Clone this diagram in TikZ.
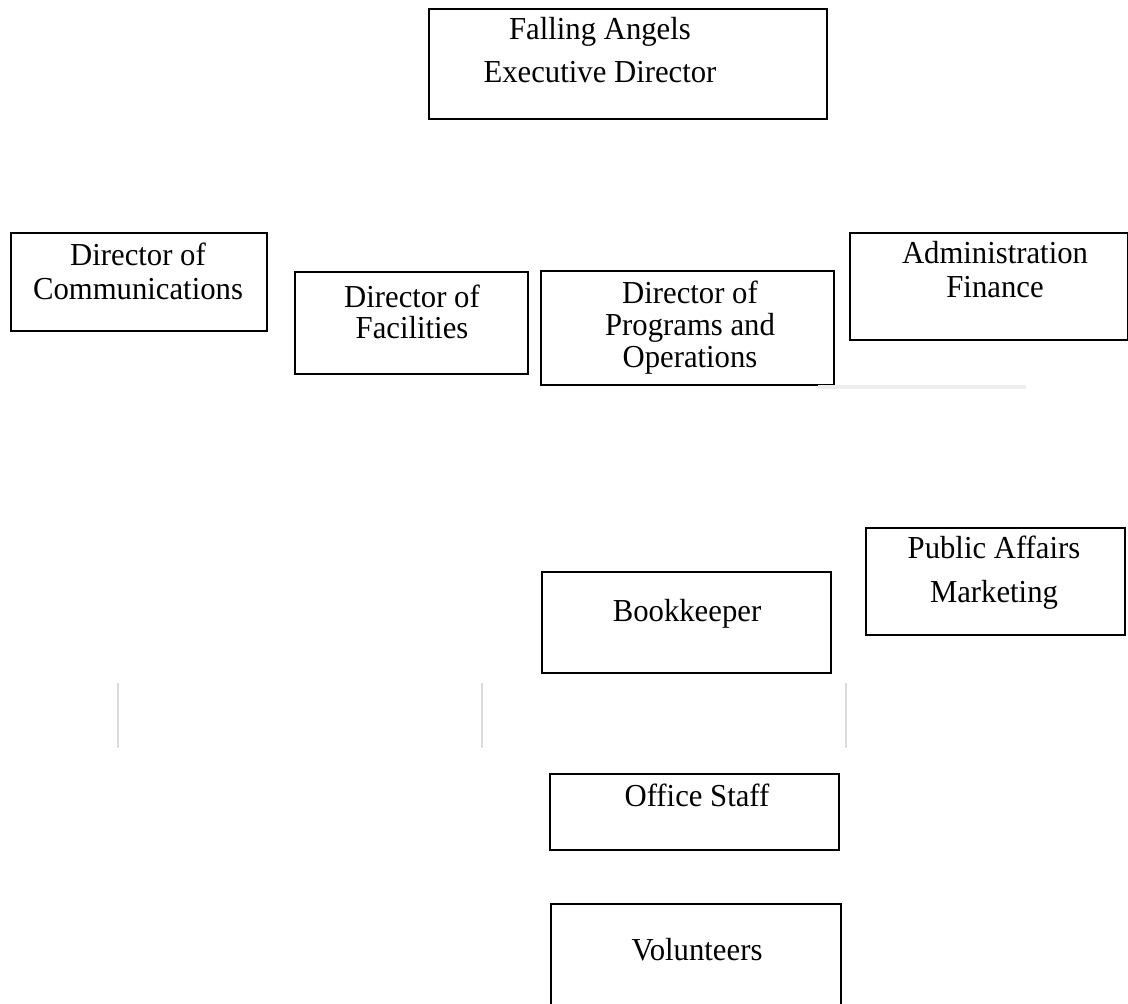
\documentclass[tikz,border=0pt]{standalone}
\usepackage{fontspec}
\setmainfont[FakeStretch=0.96]{Liberation Serif}

\begin{document}
\begin{tikzpicture}[x=1pt,y=-1pt]
    % Define styles
    \tikzstyle{post} = [rectangle, draw=black, line width=2pt, anchor=north west, inner sep=0pt]
    \tikzstyle{posttext} = [anchor=north, inner sep=0pt, align=center, font=\fontsize{32}{34}\selectfont]
    \tikzstyle{faintline} = [draw=black!14, line width=1.5pt]
    \tikzstyle{faintbar} = [draw=black!7, line width=4pt]

    \useasboundingbox (0,0) rectangle (1128,1004);

    % Executive director
    \node[post, minimum width=398pt, minimum height=110pt] (exec) at (428,8) {};
    \node[posttext, font=\fontsize{32}{43}\selectfont] (execT) at (600,17.1) {Falling Angels\\Executive Director};

    % Directors
    \node[post, minimum width=256pt, minimum height=98pt] (comm) at (10,232) {};
    \node[posttext, font=\fontsize{32}{34}\selectfont] (commT) at (138,243.1) {Director of\\Communications};

    \node[post, minimum width=233pt, minimum height=102pt] (fac) at (294,271) {};
    \node[posttext, font=\fontsize{32}{31}\selectfont] (facT) at (412,285.1) {Director of\\Facilities};

    \node[post, minimum width=293pt, minimum height=114pt] (prog) at (540,270) {};
    \node[posttext, font=\fontsize{32}{32}\selectfont] (progT) at (690,281.1) {Director of\\Programs and\\Operations};

    \node[post, minimum width=278pt, minimum height=107pt] (admin) at (849,232) {};
    \node[posttext, font=\fontsize{32}{34}\selectfont] (adminT) at (995,241.1) {Administration\\Finance};

    % Staff
    \node[post, minimum width=259pt, minimum height=107pt] (pub) at (865,527) {};
    \node[posttext, font=\fontsize{32}{44}\selectfont] (pubT) at (994,536.1) {Public Affairs\\Marketing};

    \node[post, minimum width=289pt, minimum height=101pt] (book) at (541,571) {};
    \node[posttext] (bookT) at (687,599.1) {Bookkeeper};

    \node[post, minimum width=289pt, minimum height=76pt] (office) at (549,773) {};
    \node[posttext] (officeT) at (697,784.1) {Office Staff};

    \node[post, minimum width=290pt, minimum height=120pt] (vol) at (550,903) {};
    \node[posttext] (volT) at (697,938.1) {Volunteers};

    % Faint rules
    \coordinate (barL) at (818,386.5);
    \coordinate (barR) at (1026,386.5);
    \draw[faintbar] (barL) -- (barR);
    \foreach \x/\n in {118/a, 482/b, 846/c} {
        \coordinate (tick\n top) at (\x,683);
        \coordinate (tick\n bot) at (\x,748);
        \draw[faintline] (tick\n top) -- (tick\n bot);
    }

\end{tikzpicture}
\end{document}
